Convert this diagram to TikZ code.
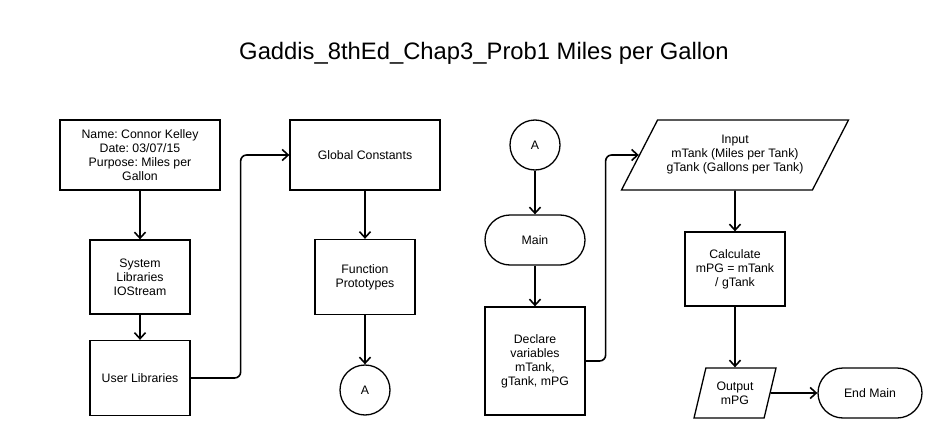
\documentclass[tikz,border=0pt]{standalone}
\usepackage{fontspec}
\setmainfont{Liberation Sans}
\frenchspacing
\usetikzlibrary{shapes.geometric,arrows.meta}

\begin{document}
\begin{tikzpicture} %Diagrama de flujo
  [
    x=1pt, y=-1pt,
    % Estilos de los nodos para no repetir codigo
    every node/.style={font=\fontsize{12.3}{14}\selectfont, align=center, inner sep=2pt},
    box/.style={rectangle, draw, line width=1.3pt},
    terminal/.style={rectangle, draw, line width=1.3pt, rounded corners=25pt, minimum height=50pt},
    conn/.style={circle, draw, line width=1.3pt, minimum size=50pt},
    io/.style={trapezium, draw, line width=1.3pt, trapezium stretches body},
    flow/.style={-{Straight Barb[length=6pt,width=11pt]}, line width=1.6pt}
  ]
  \useasboundingbox (0,0) rectangle (946,439);
  \node[font=\fontsize{23.8}{28}\selectfont] (title) at (484,53) {Gaddis\_8thEd\_Chap3\_Prob1 Miles per Gallon};

  \node[box, minimum width=160pt, minimum height=70pt] (name) at (140,155) {Name: Connor Kelley\\Date: 03/07/15\\Purpose: Miles per\\Gallon};
  \node[box, minimum width=100pt, minimum height=74pt] (syslib) at (140,277) {System\\Libraries\\IOStream};
  \node[box, minimum width=100pt, minimum height=75pt] (userlib) at (140,378) {User Libraries};
  \node[box, minimum width=150pt, minimum height=70pt] (const) at (365,155) {Global Constants};
  \node[box, minimum width=100pt, minimum height=75pt] (proto) at (365,277) {Function\\Prototypes};
  \node[conn] (a1) at (365,390) {A};

  \node[conn] (a2) at (535,145) {A};
  \node[terminal, minimum width=100pt] (main) at (535,240) {Main};
  \node[box, minimum width=100pt, minimum height=108pt] (decl) at (535,361) {Declare\\variables\\mTank,\\gTank, mPG};
  \node[io, trapezium left angle=50, trapezium right angle=130, minimum width=227pt, minimum height=70pt] (input) at (735,155) {Input\\mTank (Miles per Tank)\\gTank (Gallons per Tank)};
  \node[box, minimum width=100pt, minimum height=74pt] (calc) at (735,269) {Calculate\\mPG = mTank\\/ gTank};
  \node[io, trapezium left angle=66, trapezium right angle=114, minimum width=82pt, minimum height=50pt] (output) at (735,393) {Output\\mPG};
  \node[terminal, minimum width=104pt] (endmain) at (870,393) {End Main};

  \draw[flow] (name) -- (syslib);
  \draw[flow] (syslib) -- (userlib);
  \draw[flow, rounded corners=6pt] (userlib.east) -- ++(50,0) |- (const.west);
  \draw[flow] (const) -- (proto);
  \draw[flow] (proto) -- (a1);
  \draw[flow] (a2) -- (main);
  \draw[flow] (main) -- (decl);
  \draw[flow, rounded corners=6pt] (decl.east) -- ++(20,0) |- (input.west);
  \draw[flow] (input) -- (calc);
  \draw[flow] (calc) -- (output);
  \draw[flow] (output) -- (endmain);

\end{tikzpicture}
\end{document}
